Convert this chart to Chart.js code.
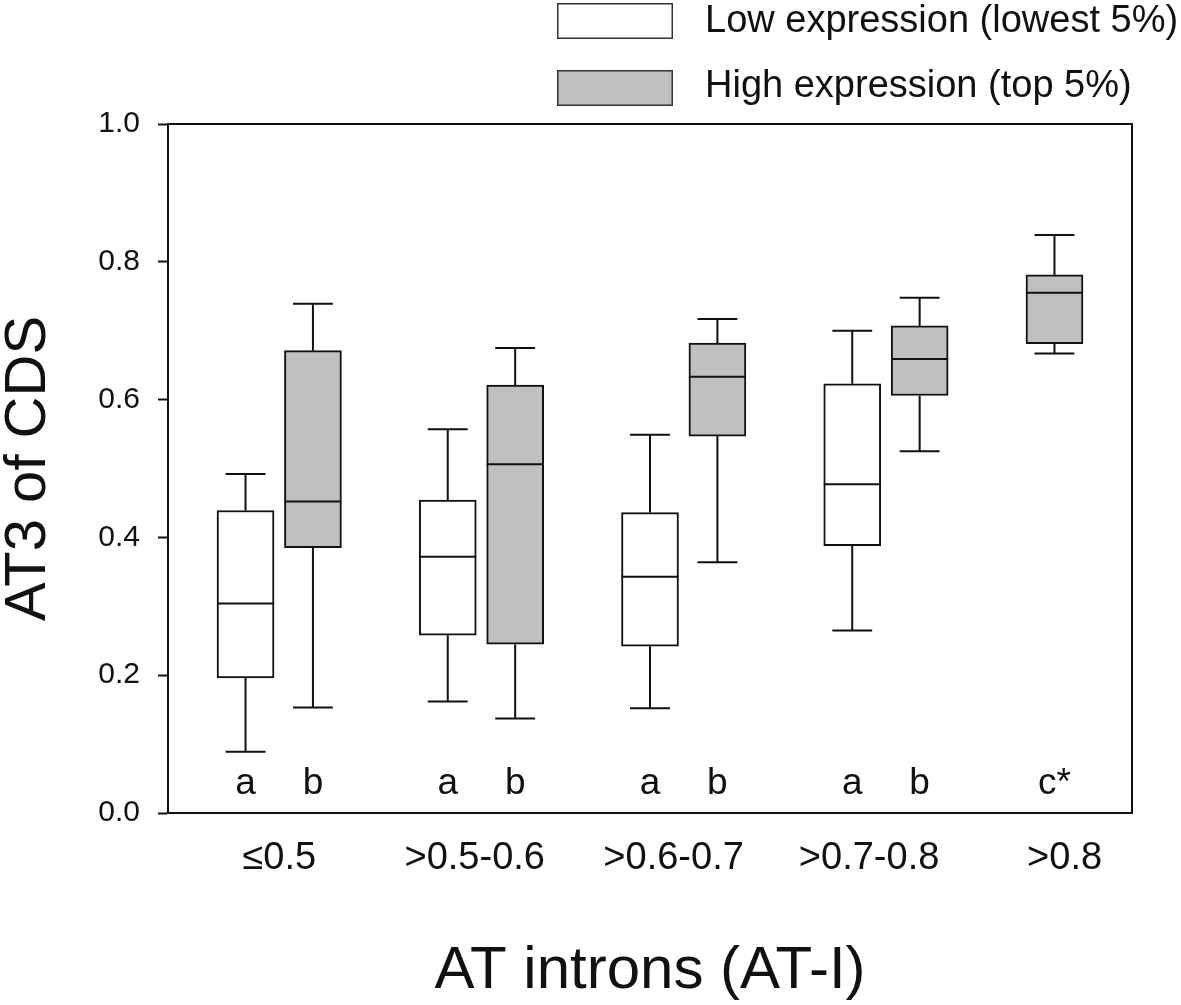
<!DOCTYPE html>
<html>
<head>
<meta charset="utf-8">
<script src="https://cdn.jsdelivr.net/npm/chart.js@4.4.1/dist/chart.umd.min.js"></script>
<style>
html,body{margin:0;padding:0;background:#fff;}
#wrap{width:1181px;height:1005px;}
</style>
</head>
<body>
<div id="wrap"><canvas id="c" width="1181" height="1005"></canvas></div>
<script>
// ---- data ----
const categories = ['≤0.5', '>0.5-0.6', '>0.6-0.7', '>0.7-0.8', '>0.8'];
const categoryTickX = [1.5, 4.4, 7.35, 10.25, 13.15];
const seriesNames = ['Low expression (lowest 5%)', 'High expression (top 5%)'];
const yTicks = [0, 0.2, 0.4, 0.6, 0.8, 1.0];

const lowX = [1, 4, 7, 10];
const lowMin = [0.089, 0.162, 0.152, 0.265];
const lowQ1 = [0.196, 0.258, 0.242, 0.388];
const lowMedian = [0.304, 0.372, 0.343, 0.477];
const lowQ3 = [0.439, 0.454, 0.436, 0.623];
const lowMax = [0.492, 0.557, 0.549, 0.700];
const lowLetters = ['a', 'a', 'a', 'a'];

const highX = [2, 5, 8, 11, 13];
const highMin = [0.153, 0.137, 0.364, 0.525, 0.667];
const highQ1 = [0.385, 0.245, 0.547, 0.606, 0.681];
const highMedian = [0.452, 0.506, 0.633, 0.659, 0.755];
const highQ3 = [0.671, 0.621, 0.682, 0.707, 0.781];
const highMax = [0.739, 0.675, 0.717, 0.748, 0.839];
const highLetters = ['b', 'b', 'b', 'b', 'c*'];

// ---- styles ----
const FONT = '"Liberation Sans", Arial, Helvetica, sans-serif';
const INK = '#111111';
Chart.defaults.font.family = FONT;
Chart.defaults.color = INK;

function boxDataset(label, xs, q1, q3, med, mn, mx, letters, fill) {
  return {
    label: label,
    data: xs.map((x, i) => ({ x: x, y: [q1[i], q3[i]] })),
    backgroundColor: fill,
    borderColor: INK,
    borderWidth: 2,
    borderSkipped: false,
    barThickness: 57,
    grouped: false,
    boxStats: { median: med, min: mn, max: mx, letters: letters }
  };
}

const whiskerPlugin = {
  id: 'whiskers',
  afterDatasetsDraw(chart, args, opts) {
    const ctx = chart.ctx;
    const ys = chart.scales.y;
    ctx.save();
    ctx.strokeStyle = INK;
    ctx.lineWidth = 2;
    ctx.lineCap = 'butt';
    chart.data.datasets.forEach((d, di) => {
      const meta = chart.getDatasetMeta(di);
      const st = d.boxStats;
      meta.data.forEach((bar, i) => {
        const p = bar.getProps(['x', 'width'], true);
        const x = p.x, half = p.width / 2, cap = p.width * 0.35;
        const pQ1 = ys.getPixelForValue(d.data[i].y[0]);
        const pQ3 = ys.getPixelForValue(d.data[i].y[1]);
        const pMed = ys.getPixelForValue(st.median[i]);
        const pMin = ys.getPixelForValue(st.min[i]);
        const pMax = ys.getPixelForValue(st.max[i]);
        ctx.beginPath();
        ctx.moveTo(x - half, pMed); ctx.lineTo(x + half, pMed);
        ctx.moveTo(x, pQ3); ctx.lineTo(x, pMax);
        ctx.moveTo(x - cap, pMax); ctx.lineTo(x + cap, pMax);
        ctx.moveTo(x, pQ1); ctx.lineTo(x, pMin);
        ctx.moveTo(x - cap, pMin); ctx.lineTo(x + cap, pMin);
        ctx.stroke();
        ctx.fillStyle = INK;
        ctx.font = '37px ' + FONT;
        ctx.textAlign = 'center';
        ctx.textBaseline = 'alphabetic';
        ctx.fillText(st.letters[i], x, ys.getPixelForValue(opts.letterValue));
      });
    });
    const a = chart.chartArea;
    ctx.lineWidth = 2;
    ctx.strokeRect(a.left, a.top, a.right - a.left, a.bottom - a.top);
    ctx.restore();
  }
};

const legendPlugin = {
  id: 'boxLegend',
  afterDraw(chart, args, opts) {
    const ctx = chart.ctx;
    ctx.save();
    chart.data.datasets.forEach((d, i) => {
      const bx = opts.boxX, by = opts.boxY[i], bw = opts.boxW, bh = opts.boxH;
      ctx.fillStyle = d.backgroundColor;
      ctx.fillRect(bx, by, bw, bh);
      ctx.strokeStyle = '#333';
      ctx.lineWidth = 1.5;
      ctx.strokeRect(bx + 0.75, by + 0.75, bw - 1.5, bh - 1.5);
      ctx.fillStyle = INK;
      ctx.font = '38px ' + FONT;
      ctx.textAlign = 'left';
      ctx.textBaseline = 'alphabetic';
      ctx.fillText(d.label, opts.textX, opts.textBaseline[i]);
    });
    ctx.restore();
  }
};

new Chart(document.getElementById('c'), {
  type: 'bar',
  data: {
    datasets: [
      boxDataset(seriesNames[0], lowX, lowQ1, lowQ3, lowMedian, lowMin, lowMax, lowLetters, '#ffffff'),
      boxDataset(seriesNames[1], highX, highQ1, highQ3, highMedian, highMin, highMax, highLetters, '#c0c0c0')
    ]
  },
  options: {
    responsive: false,
    animation: false,
    events: [],
    layout: { padding: { top: 124, right: 49, left: 0, bottom: 0 } },
    plugins: {
      legend: { display: false },
      tooltip: { enabled: false },
      whiskers: { letterValue: 0.027 },
      boxLegend: { boxX: 557, boxY: [3, 70], boxW: 116, boxH: 36, textX: 705, textBaseline: [32, 97] }
    },
    scales: {
      x: {
        type: 'linear',
        offset: false,
        min: -0.15,
        max: 14.15,
        afterBuildTicks: s => { s.ticks = categoryTickX.map(v => ({ value: v })); },
        ticks: {
          callback: (v, i) => categories[i],
          font: { size: 38 },
          color: INK,
          padding: 23,
          maxRotation: 0,
          autoSkip: false
        },
        grid: { display: false, drawTicks: false, offset: false },
        border: { display: true, color: INK, width: 2 },
        title: {
          display: true,
          text: 'AT introns (AT-I)',
          font: { size: 60, lineHeight: 1 },
          color: INK,
          padding: { top: 0, bottom: 4 }
        },
        afterFit: s => { s.height = 192; }
      },
      y: {
        min: 0,
        max: 1,
        afterBuildTicks: s => { s.ticks = yTicks.map(v => ({ value: v })); },
        ticks: {
          callback: v => Number(v).toFixed(1),
          font: { size: 30 },
          color: INK,
          padding: 18
        },
        grid: {
          display: true,
          drawOnChartArea: false,
          drawTicks: true,
          tickLength: 10,
          tickWidth: 2,
          tickColor: INK
        },
        border: { display: true, color: INK, width: 2 },
        title: {
          display: true,
          text: 'AT3 of CDS',
          font: { size: 58, lineHeight: 1 },
          color: INK,
          padding: 0
        },
        afterFit: s => { s.width = 168; }
      }
    }
  },
  plugins: [whiskerPlugin, legendPlugin]
});
</script>
</body>
</html>
